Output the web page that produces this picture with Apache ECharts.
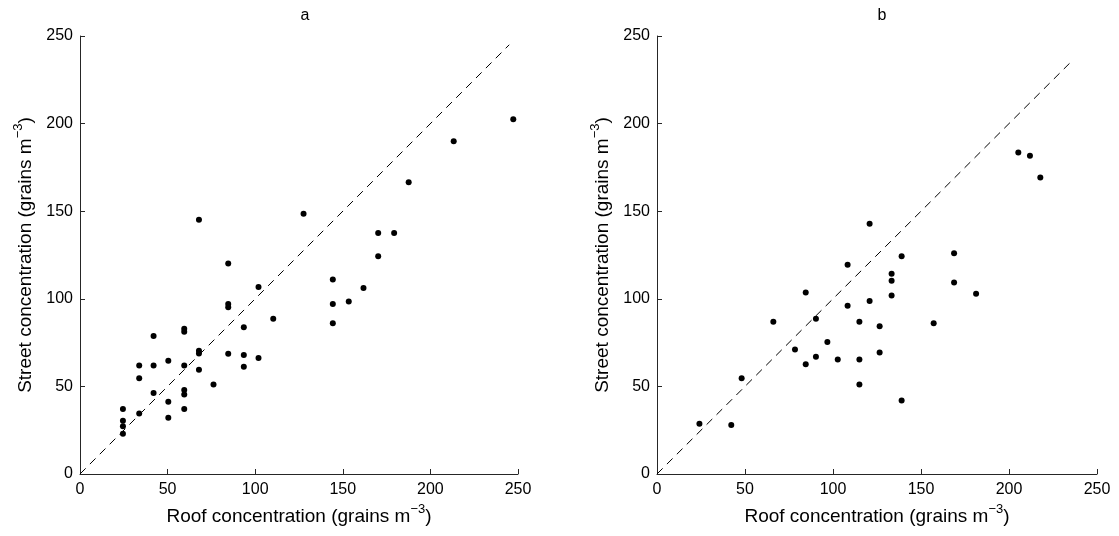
<!DOCTYPE html>
<html>
<head>
<meta charset="utf-8">
<script src="https://cdn.jsdelivr.net/npm/echarts@6/dist/echarts.min.js"></script>
<style>html,body{margin:0;padding:0;background:#fff}#c{width:1119px;height:536px}</style>
</head>
<body>
<div id="c"></div>
<script>
// Panel a: roof (x) vs street (y)
const roofA = [247.3,213.3,187.6,127.6,67.9,170.2,179.3,170.2,84.6,144.3,101.9,161.8,153.4,144.3,84.6,84.6,110.3,144.3,93.5,59.5,59.5,42.0,67.9,67.9,84.6,93.5,101.9,50.4,33.8,42.0,59.5,93.5,67.9,33.8,76.2,42.0,59.5,59.5,50.4,24.5,59.5,33.8,50.4,24.5,24.5,24.5];
const streetA = [202.5,189.9,166.5,148.5,145.1,137.6,137.6,124.3,120.2,111.0,106.8,106.1,98.5,97.0,97.0,95.2,88.6,86.1,83.7,82.9,81.2,78.7,70.3,68.8,68.6,67.9,66.2,64.6,62.0,62.0,62.0,61.2,59.5,54.6,51.1,46.2,47.9,45.4,41.3,37.1,37.1,34.6,32.1,30.4,27.2,23.0];
// Panel b
const roofB = [205.3,211.9,217.8,120.8,168.8,139.0,108.3,133.3,133.3,168.8,84.5,133.3,181.3,120.8,108.3,90.3,66.1,115.0,157.2,126.5,96.8,78.4,126.5,90.3,102.7,115.0,84.5,48.1,115.0,139.0,24.1,42.2];
const streetB = [183.5,181.7,169.2,142.8,126.0,124.3,119.4,114.3,110.3,109.3,103.6,101.9,102.9,98.7,96.0,88.6,86.9,86.9,86.1,84.4,75.3,71.1,69.4,66.9,65.4,65.4,62.7,54.6,51.1,42.0,28.7,27.9];
// 1:1 reference lines
const lineA = [0, 245];
const lineB = [0, 235];
const ticks = [0, 50, 100, 150, 200, 250];
const titles = ['a', 'b'];
const xName = ['Roof concentration (grains m', '−3', ')'];
const yName = ['Street concentration (grains m', '−3', ')'];

const font = 'Liberation Sans, Arial, Helvetica, sans-serif';
const axisCol = '#262626';
const rich = {
  t: {fontSize: 19, fontFamily: font, color: '#000', lineHeight: 23, verticalAlign: 'bottom'},
  s: {fontSize: 13, fontFamily: font, color: '#000', lineHeight: 23, verticalAlign: 'top', padding: [0, 0, 8, 0]}
};
function nm(parts) { return '{t|' + parts[0] + '}{s|' + parts[1] + '}{t|' + parts[2] + '}'; }
function pairs(xs, ys) { return xs.map((v, i) => [v, ys[i]]); }

const grids = [
  {left: 80, right: 601, top: 36, bottom: 62},
  {left: 657, right: 22, top: 36, bottom: 62}
];
function xAx(i) {
  return {
    gridIndex: i, type: 'value', min: ticks[0], max: ticks[ticks.length - 1], interval: 50,
    name: nm(xName), nameLocation: 'middle', nameGap: 29,
    nameTextStyle: {rich: rich},
    axisLine: {show: true, lineStyle: {color: axisCol, width: 1}},
    axisTick: {show: true, inside: true, length: 5, lineStyle: {color: axisCol}},
    axisLabel: {color: '#000', fontSize: 16, fontFamily: font, margin: 8},
    splitLine: {show: false}
  };
}
function yAx(i) {
  return {
    gridIndex: i, type: 'value', min: ticks[0], max: ticks[ticks.length - 1], interval: 50,
    name: nm(yName), nameLocation: 'middle', nameGap: 45, nameRotate: 90,
    nameTextStyle: {rich: rich},
    axisLine: {show: true, lineStyle: {color: axisCol, width: 1}},
    axisTick: {show: true, inside: true, length: 5, lineStyle: {color: axisCol}},
    axisLabel: {color: '#000', fontSize: 16, fontFamily: font, margin: 7},
    splitLine: {show: false}
  };
}
const chart = echarts.init(document.getElementById('c'), null, {renderer: 'canvas'});
chart.setOption({
  animation: false,
  backgroundColor: '#fff',
  title: [
    {text: titles[0], left: 300, top: 3, textAlign: 'center', textStyle: {fontSize: 16, fontWeight: 'normal', color: '#000', fontFamily: font}},
    {text: titles[1], left: 877, top: 3, textAlign: 'center', textStyle: {fontSize: 16, fontWeight: 'normal', color: '#000', fontFamily: font}}
  ],
  grid: grids,
  xAxis: [xAx(0), xAx(1)],
  yAxis: [yAx(0), yAx(1)],
  series: [
    {type: 'line', xAxisIndex: 0, yAxisIndex: 0, data: pairs(lineA, lineA), symbol: 'none', silent: true,
     lineStyle: {color: '#000', width: 1, type: [8, 6]}},
    {type: 'scatter', xAxisIndex: 0, yAxisIndex: 0, data: pairs(roofA, streetA), symbolSize: 6, itemStyle: {color: '#000', opacity: 1}},
    {type: 'line', xAxisIndex: 1, yAxisIndex: 1, data: pairs(lineB, lineB), symbol: 'none', silent: true,
     lineStyle: {color: '#000', width: 1, type: [8, 6]}},
    {type: 'scatter', xAxisIndex: 1, yAxisIndex: 1, data: pairs(roofB, streetB), symbolSize: 6, itemStyle: {color: '#000', opacity: 1}}
  ]
});
</script>
</body>
</html>
